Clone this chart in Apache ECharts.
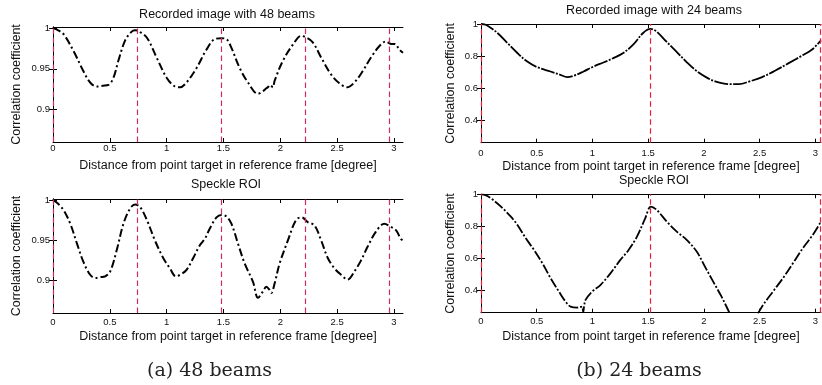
<!DOCTYPE html>
<html>
<head>
<meta charset="utf-8">
<script src="https://cdn.jsdelivr.net/npm/echarts@6/dist/echarts.min.js"></script>
<style>html,body{margin:0;padding:0;background:#fff;}#c{width:822px;height:385px;}</style>
</head>
<body>
<div id="c"></div>
<script>
// ---- data ----
const rec48 = [[0,1.0],[0.03,0.999],[0.093,0.993],[0.181,0.972],[0.268,0.947],[0.327,0.933],[0.386,0.928],[0.44,0.929],[0.488,0.930],[0.532,0.939],[0.575,0.960],[0.634,0.985],[0.69,0.996],[0.722,0.998],[0.751,0.997],[0.825,0.989],[0.912,0.964],[1.0,0.939],[1.073,0.928],[1.117,0.927],[1.175,0.933],[1.263,0.951],[1.351,0.974],[1.424,0.987],[1.482,0.988],[1.526,0.987],[1.570,0.976],[1.643,0.951],[1.716,0.933],[1.804,0.919],[1.847,0.922],[1.87,0.925],[1.891,0.927],[1.91,0.930],[1.935,0.927],[1.950,0.935],[2.023,0.960],[2.111,0.980],[2.184,0.991],[2.228,0.989],[2.286,0.983],[2.360,0.964],[2.447,0.943],[2.520,0.932],[2.588,0.927],[2.652,0.933],[2.725,0.947],[2.798,0.964],[2.871,0.978],[2.930,0.984],[2.974,0.981],[3.009,0.981],[3.047,0.974],[3.08,0.970]];
const roi48 = [[0,1.0],[0.03,0.998],[0.093,0.988],[0.152,0.971],[0.211,0.946],[0.268,0.923],[0.327,0.907],[0.371,0.903],[0.415,0.904],[0.459,0.905],[0.503,0.911],[0.561,0.938],[0.620,0.971],[0.678,0.990],[0.722,0.995],[0.766,0.992],[0.825,0.976],[0.897,0.950],[0.970,0.928],[1.029,0.915],[1.082,0.905],[1.132,0.908],[1.175,0.913],[1.234,0.928],[1.292,0.944],[1.336,0.952],[1.380,0.965],[1.439,0.979],[1.482,0.982],[1.526,0.980],[1.570,0.971],[1.628,0.946],[1.687,0.921],[1.760,0.898],[1.804,0.878],[1.847,0.886],[1.877,0.892],[1.906,0.888],[1.921,0.884],[1.950,0.896],[1.994,0.921],[2.067,0.950],[2.140,0.976],[2.190,0.979],[2.242,0.973],[2.301,0.969],[2.360,0.950],[2.418,0.928],[2.477,0.915],[2.535,0.907],[2.593,0.901],[2.652,0.911],[2.711,0.925],[2.768,0.942],[2.842,0.961],[2.915,0.971],[2.974,0.967],[3.018,0.963],[3.061,0.952],[3.08,0.950]];
const rec24 = [[0,1.0],[0.03,0.997],[0.059,0.989],[0.148,0.944],[0.237,0.881],[0.326,0.819],[0.415,0.766],[0.504,0.731],[0.623,0.704],[0.712,0.683],[0.772,0.669],[0.831,0.677],[0.920,0.704],[1.009,0.735],[1.098,0.760],[1.187,0.787],[1.276,0.819],[1.365,0.871],[1.454,0.944],[1.519,0.969],[1.573,0.954],[1.662,0.891],[1.751,0.829],[1.840,0.766],[1.929,0.710],[2.018,0.669],[2.107,0.641],[2.226,0.625],[2.315,0.625],[2.404,0.641],[2.522,0.669],[2.641,0.710],[2.760,0.756],[2.878,0.802],[2.967,0.839],[3.05,0.898]];
const roi24 = [[0,1.0],[0.04,0.995],[0.089,0.975],[0.179,0.923],[0.268,0.860],[0.327,0.808],[0.402,0.725],[0.476,0.652],[0.551,0.569],[0.625,0.475],[0.699,0.392],[0.759,0.329],[0.804,0.298],[0.863,0.292],[0.895,0.296],[0.908,0.298],[0.917,0.262],[0.925,0.30],[0.938,0.340],[0.997,0.392],[1.071,0.433],[1.161,0.506],[1.250,0.590],[1.324,0.652],[1.399,0.735],[1.473,0.850],[1.524,0.923],[1.577,0.902],[1.667,0.829],[1.756,0.767],[1.845,0.715],[1.935,0.642],[2.009,0.548],[2.083,0.454],[2.158,0.360],[2.217,0.277],[2.26,0.22],[2.35,0.19],[2.44,0.21],[2.485,0.256],[2.530,0.308],[2.619,0.392],[2.708,0.475],[2.798,0.569],[2.887,0.663],[2.976,0.746],[3.05,0.83]];
const peaks48 = [0, 0.74, 1.48, 2.22, 2.96];
const peaks24 = [0, 1.522, 3.044];
const xTicks = [0, 0.5, 1, 1.5, 2, 2.5, 3];
const yTicks48 = [0.9, 0.95, 1];
const yTicks24 = [0.4, 0.6, 0.8, 1];
const panelTitles = ['Recorded image with 48 beams', 'Recorded image with 24 beams', 'Speckle ROI', 'Speckle ROI'];
const captions = ['(a) 48 beams', '(b) 24 beams'];
const xName = 'Distance from point target in reference frame [degree]';
const yName = 'Correlation coefficient';

// ---- layout ----
const FONT = "'Liberation Sans', Arial, Helvetica, sans-serif";
const panels = [
  {grid:{left:53, top:27, width:350, height:115}, xr:[0,3.08], yr:[0.859,1.002], yt:yTicks48, data:rec48, peaks:peaks48, vc:'#d02a68', xm:1, ygap:30, dash:[8,3,2,3], lw:2, title:[227,15]},
  {grid:{left:481, top:24, width:340, height:118.7}, xr:[0,3.05], yr:[0.26,1.0], yt:yTicks24, data:rec24, peaks:peaks24, vc:'#ee1c3c', xm:6, ygap:23.5, dash:[14,1.5,2,1.5], lw:1.8, title:[654,11]},
  {grid:{left:53, top:199, width:350, height:114}, xr:[0,3.08], yr:[0.859,1.002], yt:yTicks48, data:roi48, peaks:peaks48, vc:'#d02a68', xm:4, ygap:30, dash:[8,3,2,3], lw:2, title:[226,185]},
  {grid:{left:481, top:194.3, width:340, height:118.4}, xr:[0,3.05], yr:[0.26,1.0], yt:yTicks24, data:roi24, peaks:peaks24, vc:'#ee1c3c', xm:4, ygap:23.5, dash:[10,2,2,2], lw:1.8, title:[654,181]}
];

const grid = [], xAxis = [], yAxis = [], series = [], graphic = [];
const line = {show:true, lineStyle:{color:'#000', width:1}};
panels.forEach((p, i) => {
  grid.push(Object.assign({containLabel:false}, p.grid));
  xAxis.push({type:'value', gridIndex:i, min:p.xr[0], max:p.xr[1], position:'bottom',
    axisLine:line, splitLine:{show:false},
    axisTick:{inside:true, length:4, lineStyle:{color:'#000'}, customValues:xTicks},
    axisLabel:{customValues:xTicks, margin:p.xm, fontSize:9.5, color:'#111', fontFamily:FONT},
    name:xName, nameLocation:'middle', nameGap:17, nameTextStyle:{fontSize:12.5, color:'#111', fontFamily:FONT}});
  xAxis.push({type:'value', gridIndex:i, min:p.xr[0], max:p.xr[1], position:'top',
    axisLine:line, splitLine:{show:false},
    axisTick:{inside:true, length:4, lineStyle:{color:'#000'}, customValues:xTicks},
    axisLabel:{show:false}});
  yAxis.push({type:'value', gridIndex:i, min:p.yr[0], max:p.yr[1], position:'left',
    axisLine:line, splitLine:{show:false},
    axisTick:{inside:true, length:4, lineStyle:{color:'#000'}, customValues:p.yt},
    axisLabel:{customValues:p.yt, margin:3, fontSize:9.5, color:'#111', fontFamily:FONT},
    name:yName, nameLocation:'middle', nameGap:p.ygap, nameTextStyle:{fontSize:12.5, color:'#111', fontFamily:FONT}});
  yAxis.push({type:'value', gridIndex:i, min:p.yr[0], max:p.yr[1], position:'right',
    axisLine:line, splitLine:{show:false},
    axisTick:{inside:true, length:4, lineStyle:{color:'#000'}, customValues:p.yt},
    axisLabel:{show:false}});
  series.push({type:'line', xAxisIndex:2*i, yAxisIndex:2*i, data:p.data, showSymbol:false, symbol:'none',
    smooth:0.35, clip:true,
    lineStyle:{color:'#000', width:p.lw, type:p.dash},
    markLine:{silent:true, symbol:['none','none'], label:{show:false},
      lineStyle:{color:p.vc, width:1.2, type:[5.5,3.5]},
      emphasis:{disabled:true},
      data:p.peaks.map(v => ({xAxis:v}))}
  });
  graphic.push({type:'text', x:p.title[0], y:p.title[1],
    style:{text:panelTitles[i], fontSize:12.5, fill:'#111', fontFamily:FONT, textAlign:'center', textVerticalAlign:'middle'}});
});
graphic.push({type:'text', x:209.5, y:371, style:{text:captions[0], fontSize:19, fill:'#222', fontFamily:"'DejaVu Serif', serif", textAlign:'center', textVerticalAlign:'middle'}});
graphic.push({type:'text', x:639, y:371, style:{text:captions[1], fontSize:19, fill:'#222', fontFamily:"'DejaVu Serif', serif", textAlign:'center', textVerticalAlign:'middle'}});

const chart = echarts.init(document.getElementById('c'), null, {renderer:'canvas'});
chart.setOption({animation:false, backgroundColor:'#fff', grid, xAxis, yAxis, series, graphic});
</script>
</body>
</html>
